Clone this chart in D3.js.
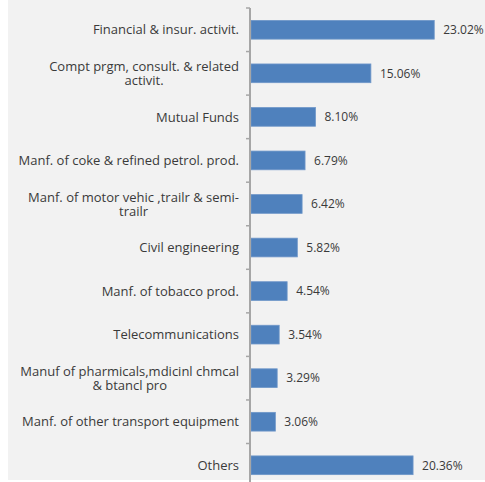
<!DOCTYPE html>
<html>
<head>
<meta charset="utf-8">
<script src="https://cdn.jsdelivr.net/npm/d3@7"></script>
<style>
  html, body { margin: 0; padding: 0; background: #ffffff; }
  svg { display: block; }
  text { font-family: "Open Sans", sans-serif; fill: #3a3a3a; }
</style>
</head>
<body>
<svg id="chart" width="485" height="482"></svg>
<script>
// Category names (line breaks mark where a long label wraps)
const categories = [
  "Financial & insur. activit.",
  "Compt prgm, consult. & related\nactivit.",
  "Mutual Funds",
  "Manf. of coke & refined petrol. prod.",
  "Manf. of motor vehic ,trailr & semi-\ntrailr",
  "Civil engineering",
  "Manf. of tobacco prod.",
  "Telecommunications",
  "Manuf of pharmicals,mdicinl chmcal\n& btancl pro",
  "Manf. of other transport equipment",
  "Others"
];
// Share of holdings, percent
const values = [23.02, 15.06, 8.10, 6.79, 6.42, 5.82, 4.54, 3.54, 3.29, 3.06, 20.36];
const xMax = 25;

const svg = d3.select("#chart");
const W = 485, H = 482;
const fontSize = 13;
const valueFontSize = 12;

// chart area background
svg.append("rect").attr("x", 8).attr("y", 0).attr("width", W - 8).attr("height", H - 2)
  .attr("fill", "#f2f2f2");

const axisX = 250;
const axisTop = 8, step = 43.55;
const y = d3.scaleBand()
  .domain(categories)
  .range([axisTop, axisTop + step * categories.length])
  .paddingInner(0.57)
  .paddingOuter(0.285);

const x = d3.scaleLinear().domain([0, xMax]).range([axisX + 1, axisX + 1 + 199]);

// bars
svg.append("g").selectAll("rect")
  .data(categories)
  .join("rect")
  .attr("x", x(0))
  .attr("y", d => y(d))
  .attr("width", (d, i) => x(values[i]) - x(0))
  .attr("height", y.bandwidth())
  .attr("fill", "#4f81bd")
  .attr("stroke", "#6f97c9")
  .attr("stroke-width", 0.8);

// category axis with ticks on band boundaries
const axisG = svg.append("g");
axisG.append("line")
  .attr("x1", axisX).attr("x2", axisX)
  .attr("y1", axisTop).attr("y2", H)
  .attr("stroke", "#a6a6a6").attr("stroke-width", 2);
axisG.selectAll("line.tick")
  .data(d3.range(categories.length + 1))
  .join("line")
  .attr("class", "tick")
  .attr("x1", axisX - 4).attr("x2", axisX)
  .attr("y1", i => axisTop + i * y.step())
  .attr("y2", i => axisTop + i * y.step())
  .attr("stroke", "#a6a6a6").attr("stroke-width", 1.5);

// category labels: block right-aligned to the axis, wrapped lines centred within it
const lineH = 14;
const labels = svg.append("g").selectAll("text")
  .data(categories)
  .join("text")
  .attr("text-anchor", "middle")
  .attr("font-size", fontSize)
  .attr("transform", d => `translate(${axisX - 11},${y(d) + y.bandwidth() / 2})`);
labels.each(function (d) {
  const lines = d.split("\n");
  const t = d3.select(this);
  const spans = lines.map((ln, k) => t.append("tspan")
    .attr("y", (k - (lines.length - 1) / 2) * lineH)
    .attr("dy", "0.36em")
    .text(ln));
  const blockW = d3.max(spans, s => s.node().getComputedTextLength());
  spans.forEach(s => s.attr("x", -blockW / 2));
});

// value labels
svg.append("g").selectAll("text")
  .data(categories)
  .join("text")
  .attr("x", (d, i) => x(values[i]) + 9)
  .attr("y", d => y(d) + y.bandwidth() / 2)
  .attr("dy", "0.36em")
  .attr("font-size", valueFontSize)
  .text((d, i) => values[i].toFixed(2) + "%");
</script>
</body>
</html>
